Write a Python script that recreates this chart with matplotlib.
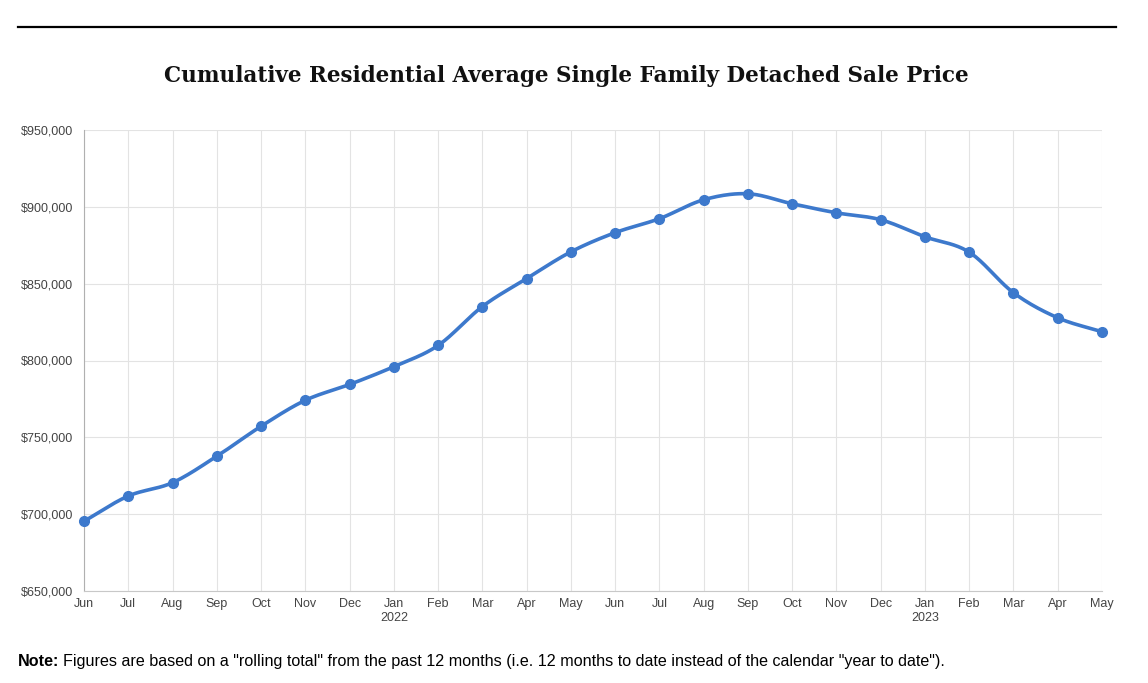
import matplotlib.pyplot as plt
import numpy as np

# måneder og priser
months = ['Jun', 'Jul', 'Aug', 'Sep', 'Oct', 'Nov', 'Dec', 'Jan', 'Feb', 'Mar', 'Apr', 'May',
          'Jun', 'Jul', 'Aug', 'Sep', 'Oct', 'Nov', 'Dec', 'Jan', 'Feb', 'Mar', 'Apr', 'May']
years = {7: '2022', 19: '2023'}
prices = [695400, 711800, 720500, 737700, 757200, 774100, 784400, 796000, 809800, 835100,
          853300, 870700, 883200, 892300, 904600, 908500, 902000, 896100, 891600, 880500,
          870500, 844100, 827800, 818700]

tick_labels = [m + ('\n' + years[i] if i in years else '') for i, m in enumerate(months)]
y_ticks = [650000, 700000, 750000, 800000, 850000, 900000, 950000]


def smooth(x, y, n=20):
    # catmull-rom kurve gennem punkterne
    x = np.asarray(x, float)
    y = np.asarray(y, float)
    px = np.concatenate([[2 * x[0] - x[1]], x, [2 * x[-1] - x[-2]]])
    py = np.concatenate([[2 * y[0] - y[1]], y, [2 * y[-1] - y[-2]]])
    xs, ys = [], []
    t = np.linspace(0, 1, n, endpoint=False)
    for i in range(1, len(px) - 2):
        for p, out in ((px, xs), (py, ys)):
            p0, p1, p2, p3 = p[i - 1], p[i], p[i + 1], p[i + 2]
            out.extend(0.5 * (2 * p1 + (-p0 + p2) * t + (2 * p0 - 5 * p1 + 4 * p2 - p3) * t ** 2
                              + (-p0 + 3 * p1 - 3 * p2 + p3) * t ** 3))
    xs.append(x[-1])
    ys.append(y[-1])
    return np.array(xs), np.array(ys)


fig = plt.figure(figsize=(11.48, 6.83), dpi=100)
ax = fig.add_axes([84 / 1148, 1 - 591 / 683, (1102 - 84) / 1148, (591 - 130) / 683])

x = np.arange(len(prices))
sx, sy = smooth(x, prices)
color = '#3d79cc'
ax.plot(sx, sy, color=color, lw=2.6, solid_capstyle='round', zorder=3)
ax.plot(x, prices, 'o', color=color, ms=7, zorder=4, clip_on=False)

ax.set_xlim(0, len(prices) - 1)
ax.set_ylim(650000, 950000)
ax.set_xticks(x)
ax.set_xticklabels(tick_labels)
ax.set_yticks(y_ticks)
ax.set_yticklabels(['${:,}'.format(v) for v in y_ticks])
ax.grid(True, color='#e3e3e3', lw=0.8)
ax.set_axisbelow(True)
for s in ['top', 'right']:
    ax.spines[s].set_visible(False)
ax.spines['left'].set_color('#b0b0b0')
ax.spines['bottom'].set_color('#c8c8c8')
ax.tick_params(length=0, labelsize=9, labelcolor='#444444')
for lab in ax.get_xticklabels() + ax.get_yticklabels():
    lab.set_fontfamily('Liberation Sans')
ax.tick_params(axis='x', pad=5)
ax.tick_params(axis='y', pad=8)

# linje i toppen, titel og note
fig.add_artist(plt.Line2D([18 / 1148, 1116 / 1148], [1 - 27 / 683] * 2, color='black', lw=1.6))
fig.text(0.5 * (163 + 970) / 1148, 1 - 76 / 683, 'Cumulative Residential Average Single Family Detached Sale Price',
         ha='center', va='center', fontsize=15.5, fontweight='bold', family='DejaVu Serif', color='#111111')

note = fig.text(18 / 1148, 1 - 666 / 683, 'Note:', fontsize=11.6, va='baseline', fontweight='bold',
                family='Liberation Sans')
fig.canvas.draw()
bb = note.get_window_extent()
fig.text((bb.x1 + 4) / 1148, 1 - 666 / 683, 'Figures are based on a "rolling total" from the past 12 months '
         '(i.e. 12 months to date instead of the calendar "year to date").', fontsize=11.6, va='baseline',
         family='Liberation Sans')

plt.savefig('out.png', dpi=100)
